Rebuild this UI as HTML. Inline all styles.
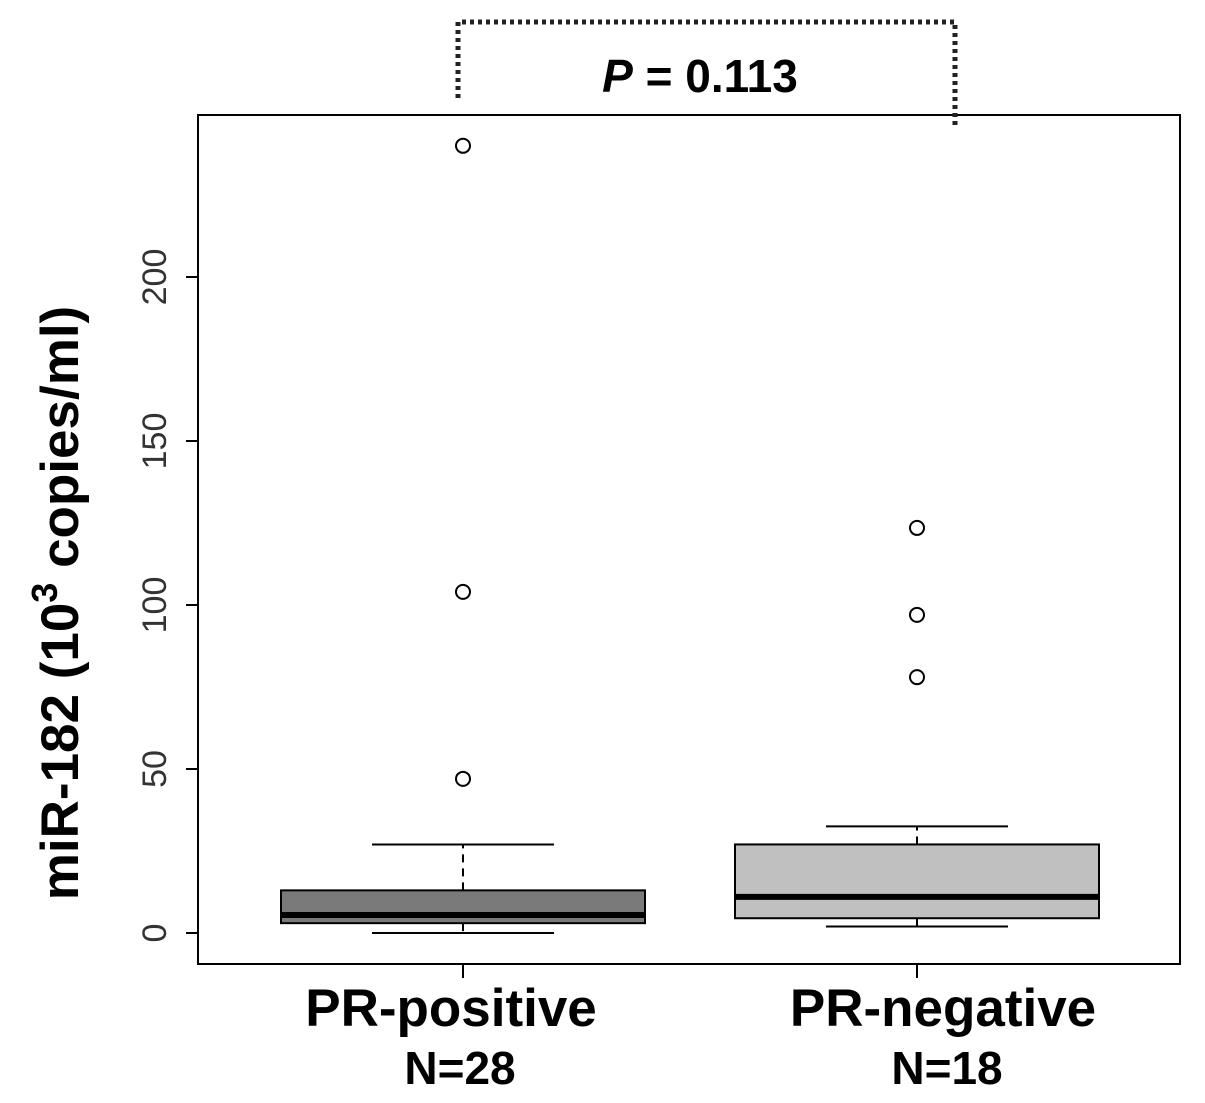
<!DOCTYPE html>
<html><head><meta charset="utf-8"><style>
body{margin:0;background:#fff}
svg{display:block;font-family:"Liberation Sans",sans-serif}
</style></head><body>
<svg id="chart" width="1205" height="1103"></svg>
<script>
const groups=["PR-positive","PR-negative"];
const nLabels=["N=28","N=18"];
const whiskLow=[0,2];
const q1=[3,4.5];
const medians=[5.5,11];
const q3=[13,27];
const whiskHigh=[27,32.5];
const outliers=[[240,104,47],[123.5,97,78]];
const fills=["#7a7a7a","#c0c0c0"];
const yTicks=[0,50,100,150,200];
const pText="0.113";
const NS="http://www.w3.org/2000/svg";
const svg=document.getElementById('chart');
const y=v=>933-v*3.28;
const xc=[463,917];
const labelOff=[-12,26];
const nOff=[-3,30];
const boxHalf=182, capHalf=91;
function el(t,a,p){const e=document.createElementNS(NS,t);for(const k in a)e.setAttribute(k,a[k]);(p||svg).appendChild(e);return e;}
const frame=el('rect',{x:198,y:115,width:982,height:849,fill:'none',stroke:'#000','stroke-width':2});


yTicks.forEach(t=>{
  const l=el('line',{x1:186,x2:198,y1:y(t),y2:y(t),stroke:'#000','stroke-width':2});
  
  
  const tx=el('text',{x:166,y:y(t),'font-size':34,fill:'#333','text-anchor':'middle',transform:`rotate(-90 166 ${y(t)})`});
  tx.textContent=t;
  
  
});
groups.forEach((g,i)=>{
  const x=xc[i];
  const gg=el('g',{});
  
  
  el('line',{x1:x,x2:x,y1:y(q3[i]),y2:y(whiskHigh[i]),stroke:'#000','stroke-width':2,'stroke-dasharray':'8 6'},gg);
  el('line',{x1:x,x2:x,y1:y(q1[i]),y2:y(whiskLow[i]),stroke:'#000','stroke-width':2,'stroke-dasharray':'8 6'},gg);
  el('line',{x1:x-capHalf,x2:x+capHalf,y1:y(whiskHigh[i]),y2:y(whiskHigh[i]),stroke:'#000','stroke-width':2},gg);
  el('line',{x1:x-capHalf,x2:x+capHalf,y1:y(whiskLow[i]),y2:y(whiskLow[i]),stroke:'#000','stroke-width':2},gg);
  el('rect',{x:x-boxHalf,y:y(q3[i]),width:boxHalf*2,height:y(q1[i])-y(q3[i]),fill:fills[i],stroke:'#000','stroke-width':2},gg);
  el('line',{x1:x-boxHalf,x2:x+boxHalf,y1:y(medians[i]),y2:y(medians[i]),stroke:'#000','stroke-width':6},gg);
  outliers[i].forEach(o=>{
    const c=el('circle',{cx:x,cy:y(o),r:7,fill:'#fff',stroke:'#000','stroke-width':2});
    
    
  });
  const tk=el('line',{x1:x,x2:x,y1:964,y2:978,stroke:'#000','stroke-width':2});
  
  
  const t1=el('text',{x:x+labelOff[i],y:1026,'font-size':53,'font-weight':'bold','text-anchor':'middle'});
  t1.textContent=g;
  
  
  const t2=el('text',{x:x+nOff[i],y:1084,'font-size':46,'font-weight':'bold','text-anchor':'middle'});
  t2.textContent=nLabels[i];
  
  
});
const br=el('path',{d:'M458 98 V22 H955 V126',fill:'none',stroke:'#222','stroke-width':5,'stroke-dasharray':'4 4'});


const pt=el('text',{x:700,y:92,'font-size':46,'font-weight':'bold','text-anchor':'middle'});
pt.innerHTML='<tspan font-style="italic">P</tspan> = '+pText;


const yt=el('text',{x:78,y:603,'font-size':53,'font-weight':'bold','text-anchor':'middle',transform:'rotate(-90 78 603)'});
yt.innerHTML='miR-182 (10<tspan font-size="36" dy="-21">3</tspan><tspan dy="21"> copies/ml)</tspan>';


</script>
</body></html>
